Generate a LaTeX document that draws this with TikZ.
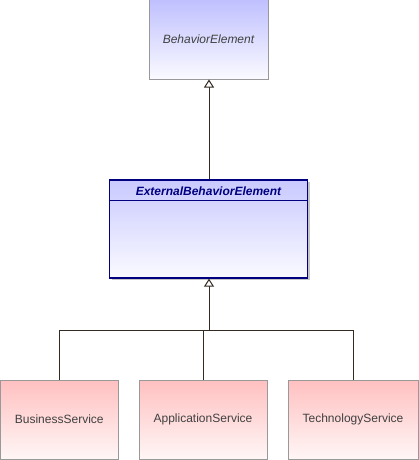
\documentclass[tikz,border=0pt]{standalone}
\usepackage{fontspec}
\setmainfont{Liberation Sans}
\usetikzlibrary{arrows.meta,shadows}
\definecolor{grayborder}{HTML}{999999}
\definecolor{navyborder}{HTML}{000080}
\definecolor{blueTop}{HTML}{C0C0FF}
\definecolor{blueBot}{HTML}{FAFAFF}
\definecolor{pinkTop}{HTML}{FFC0C0}
\definecolor{pinkBot}{HTML}{FFF6F6}
\definecolor{linecol}{HTML}{332B22}
\definecolor{textgray}{HTML}{404040}
\tikzset{
  absbox/.style={draw=grayborder, line width=1pt, top color=blueTop, bottom color=blueBot,
    minimum width=119pt, minimum height=79pt, inner sep=0pt,
    font=\fontsize{12}{14}\selectfont\itshape, text=textgray},
  extbox/.style={draw=navyborder, line width=1.3pt, top color=blueTop!85!white, bottom color=blueBot,
    minimum width=198pt, minimum height=98pt, inner sep=0pt,
    drop shadow={shadow xshift=2pt, shadow yshift=-2pt, fill=gray!45, opacity=1}},
  svcbox/.style={draw=grayborder, line width=1pt, top color=pinkTop, bottom color=pinkBot,
    minimum height=79pt, inner sep=0pt,
    font=\fontsize{12}{14}\selectfont, text=textgray},
  conn/.style={draw=linecol, line width=1pt},
  gen/.style={conn, -{Triangle[open, width=10pt, length=8pt, fill=white]}},
  titletext/.style={font=\fontsize{12}{14}\selectfont\bfseries\itshape, text=navyborder, inner sep=0pt}
}
\begin{document}
\begin{tikzpicture}[x=1pt,y=-1pt]
\useasboundingbox (0,0) rectangle (419,460);
\node[absbox] (be) at (208.5,39.5) {BehaviorElement};
\node[extbox] (ext) at (208.5,229) {};
\node[titletext] (exttitle) at (208.5,191) {ExternalBehaviorElement};
\draw[navyborder, line width=1.3pt] ([yshift=-21pt]ext.north west) -- ([yshift=-21pt]ext.north east);
\node[svcbox, minimum width=117.5pt] (bs) at (59.25,419.5) {BusinessService};
\node[svcbox, minimum width=128pt] (as) at (203,419.5) {ApplicationService};
\node[svcbox, minimum width=130pt] (ts) at (353,419.5) {TechnologyService};
\coordinate (j) at (209,330);
\draw[gen] ([xshift=0.5pt]ext.north) -- ([xshift=0.5pt]be.south);
\draw[gen] (j) -- ([xshift=0.5pt]ext.south);
\draw[conn] (bs.north) |- (j);
\draw[conn] (as.north) |- (j);
\draw[conn] (ts.north) |- (j);
\end{tikzpicture}
\end{document}
